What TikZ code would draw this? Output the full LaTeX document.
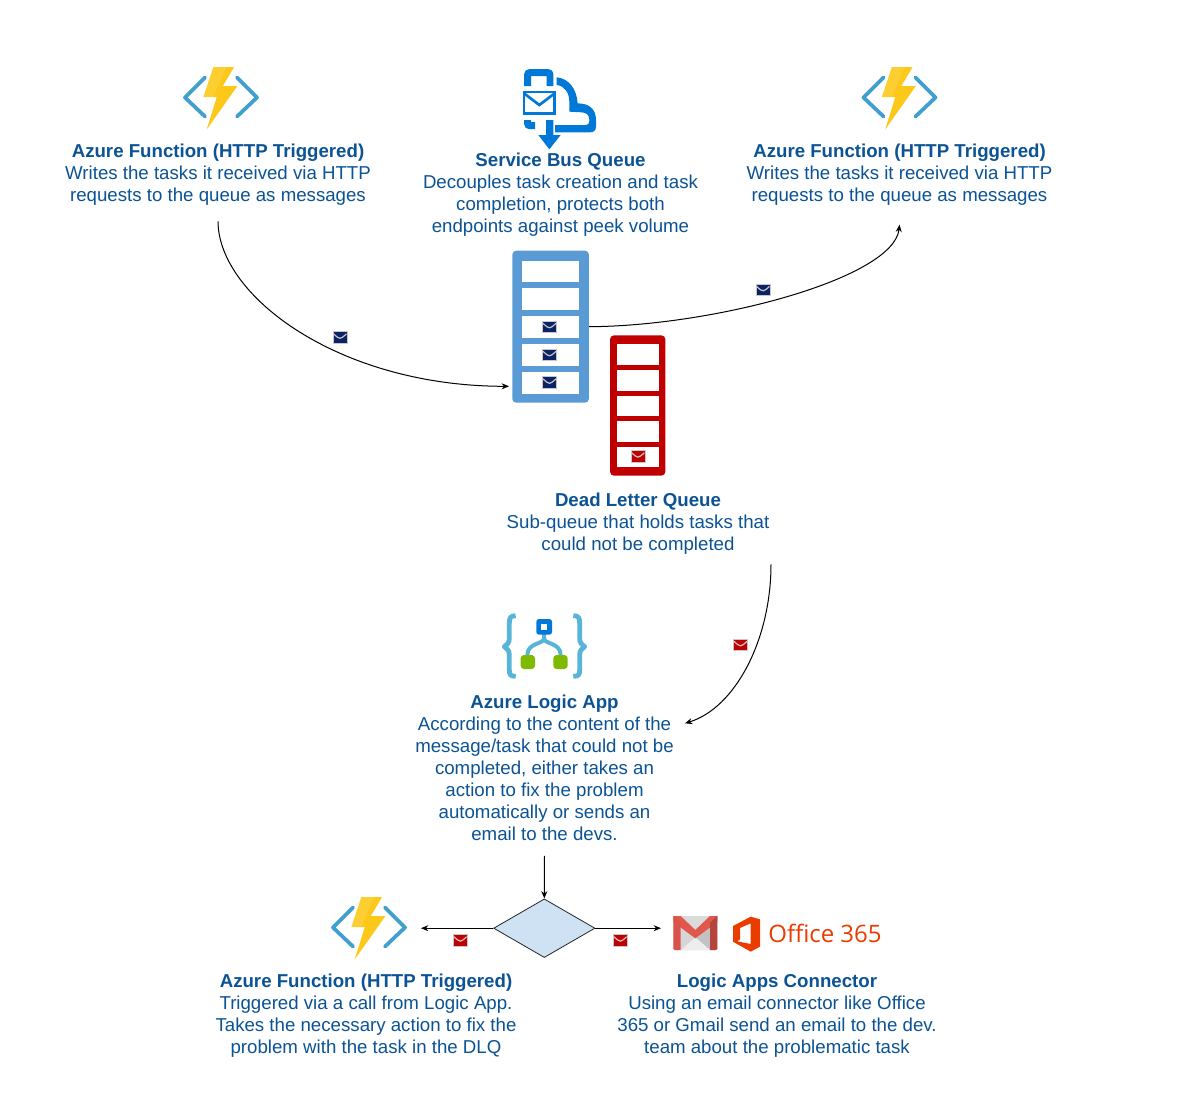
\documentclass[tikz,border=0pt]{standalone}
\usepackage{fontspec}
\setmainfont{Liberation Sans}
\newfontfamily\officefont{Open Sans}
\usetikzlibrary{arrows.meta,shapes.geometric}
\definecolor{txt}{HTML}{0B5394}
\definecolor{qblue}{HTML}{5B9BD5}
\definecolor{qred}{HTML}{C00000}
\definecolor{navy}{HTML}{0B2265}
\definecolor{fnblue}{HTML}{3F9FCF}
\definecolor{fnyellow}{HTML}{FCC91A}
\definecolor{sbblue}{HTML}{0078D7}
\definecolor{lablue}{HTML}{59B4D9}
\definecolor{lagreen}{HTML}{7FBA00}
\definecolor{orange365}{HTML}{EB3C00}
\definecolor{diafill}{HTML}{CFE2F3}
\tikzset{
  label text/.style={align=center,text=txt,inner sep=0pt,font=\fontsize{14}{16.5}\selectfont},
  conn/.style={draw=black,line width=.75pt,-{Stealth[length=5.5pt,width=4.5pt]}},
  slot/.style={fill=white,draw=none},
  queue/.style={rounded corners=2pt,minimum width=#1,inner sep=0pt},
}
\newcommand{\mailicon}[3]{%
  \begin{scope}[shift={(#1,#2)}]
    \fill[#3,draw=black!22,line width=.75pt] (-7,-5.7) rectangle (7,5.7);
    \draw[black!22,line width=.9pt] (-6.4,-3.6) .. controls (-3,-.5) and (-1.5,.8) .. (0,.8) .. controls (1.5,.8) and (3,-.5) .. (6.4,-3.6);
  \end{scope}}
\newcommand{\fnicon}[2]{%
  \begin{scope}[shift={(#1,#2)}]
    \draw[fnblue,line width=2.8pt,line cap=round,line join=round] (-16,-20) -- (-36,0) -- (-16,19);
    \draw[fnblue,line width=2.8pt,line cap=round,line join=round] (16,-20) -- (36,0) -- (16,19);
    \fill[fnyellow] (-7.7,-30.3) -- (13,-30.3) -- (1.7,-11.3) -- (16.3,-11.3) -- (-14.3,32) -- (-4.3,-.3) -- (-17.7,-.3) -- cycle;
    \fill[white,opacity=.1] (-7.7,-30.3) -- (5,-30.3) -- (-8,-.3) -- (-17.7,-.3) -- cycle;
  \end{scope}}
\begin{document}
\begin{tikzpicture}[x=.75pt,y=-.75pt]
\useasboundingbox (0,0) rectangle (1183,1111);
\fill[white] (0,0) rectangle (1183,1111);

% text nodes
\node[label text,inner ysep=11.5pt] (f1) at (218,175) {\textbf{Azure Function (HTTP Triggered)}\\Writes the tasks it received via HTTP\\requests to the queue as messages};
\node[label text] (sb) at (560.5,195) {\textbf{Service Bus Queue}\\Decouples task creation and task\\completion, protects both\\endpoints against peek volume};
\node[label text,inner ysep=14pt] (f2) at (899.5,175) {\textbf{Azure Function (HTTP Triggered)}\\Writes the tasks it received via HTTP\\requests to the queue as messages};
\node[label text] (dlq) at (638,524) {\textbf{Dead Letter Queue}\\Sub-queue that holds tasks that\\could not be completed};
\node[label text,inner ysep=11pt] (logic) at (544.5,768) {\textbf{Azure Logic App}\\According to the content of the\\message/task that could not be\\completed, either takes an\\action to fix the problem\\automatically or sends an\\email to the devs.};
\node[label text] (fb) at (366,1016) {\textbf{Azure Function (HTTP Triggered)}\\Triggered via a call from Logic App.\\Takes the necessary action to fix the\\problem with the task in the DLQ};
\node[label text] (cn) at (777,1016) {\textbf{Logic Apps Connector}\\Using an email connector like Office\\365 or Gmail send an email to the dev.\\team about the problematic task};

% function icons
\fnicon{221}{97.5}
\fnicon{899.5}{97.5}
\fnicon{369}{927.5}

% service bus icon
\begin{scope}[shift={(510,60)},x=.25pt,y=-.25pt]
  \draw[sbblue,line width=5.2pt,rounded corners=1.5pt] (53,78) -- (53,38) -- (120,38) -- (120,78);
  \fill[sbblue] (140,52) .. controls (175,55) and (200,85) .. (203,130) .. controls (240,130) and (258,150) .. (258,180) -- (258,200) .. controls (258,212) and (250,217) .. (240,217) -- (135,217) -- (135,195) -- (225,195) .. controls (235,195) and (238,190) .. (238,180) .. controls (238,165) and (230,158) .. (215,157) -- (178,155) -- (178,125) .. controls (178,100) and (165,78) .. (140,75) -- cycle;
  \draw[sbblue,line width=2.2pt,fill=white] (42,96) rectangle (134,161);
  \draw[sbblue,line width=2pt] (42,100) -- (88,135) -- (134,100);
  \draw[sbblue,line width=5.2pt,rounded corners=1.5pt] (53,180) -- (53,197) -- (75,197);
  \fill[sbblue] (108,180) -- (130,180) -- (130,225) -- (152,225) -- (118,268) -- (85,225) -- (108,225) -- cycle;
\end{scope}

% blue queue
\node[queue=76.7*.75pt,minimum height=114pt,fill=qblue,rounded corners=3pt] (bq) at (550.6,326.7) {};
\foreach \a/\b in {260.7/282.3,288.3/310,316/338.3,344/366,372/394}
  \draw[slot] (521.7,\a) rectangle (579.3,\b);
\mailicon{549.5}{327}{navy}
\mailicon{549.5}{355}{navy}
\mailicon{549.5}{382.5}{navy}

% red queue
\node[queue=55.3*.75pt,minimum height=105.3pt,fill=qred,rounded corners=3pt] (rq) at (637.7,405.5) {};
\foreach \a/\b in {344.3/365,370/390.7,395.7/416.3,421.3/442,447/467.3}
  \draw[slot] (616.7,\a) rectangle (658.7,\b);
\mailicon{638}{456.3}{qred}

% logic app icon
\begin{scope}[shift={(490,605)},x=.25pt,y=-.25pt,line join=round]
  \draw[lablue,line width=3.6pt] (77,32) .. controls (60,32) and (58,40) .. (58,55) -- (58,100) .. controls (58,115) and (50,120) .. (43,125) .. controls (50,130) and (58,135) .. (58,150) -- (58,195) .. controls (58,208) and (60,214) .. (77,214);
  \draw[lablue,line width=3.6pt] (250,32) .. controls (267,32) and (269,40) .. (269,55) -- (269,100) .. controls (269,115) and (277,120) .. (284,125) .. controls (277,130) and (269,135) .. (269,150) -- (269,195) .. controls (269,208) and (267,214) .. (250,214);
  \draw[lablue,line width=3pt] (162,85) -- (162,100) .. controls (162,118) and (112,112) .. (112,150);
  \draw[lablue,line width=3pt] (162,100) .. controls (162,118) and (212,112) .. (212,150);
  \fill[sbblue,rounded corners=2pt] (139,42) rectangle (186,89);
  \fill[white] (153,56) rectangle (172,75);
  \fill[lagreen,rounded corners=2.5pt] (92,150) rectangle (135,192);
  \fill[lagreen,rounded corners=2.5pt] (190,150) rectangle (233,192);
\end{scope}

% decision
\node[diamond,draw=black!85,fill=diafill,line width=.6pt,inner sep=0pt,minimum width=76pt,minimum height=44pt,aspect=1.72] (dec) at (544.3,928.2) {};

% gmail + office
\begin{scope}[shift={(660,900)},x=.25pt,y=-.25pt]
  \fill[black!14,rounded corners=1pt] (40,48) rectangle (172,150);
  \fill[black!24] (150,150) -- (150,70) -- (106,112) -- cycle;
  \fill[black!7] (62,150) -- (106,112) -- (150,150) -- cycle;
  \fill[black!16] (62,150) -- (62,70) -- (106,112) -- cycle;
  \definecolor{gm1}{HTML}{E0584B}\definecolor{gm2}{HTML}{D9534A}\definecolor{gm3}{HTML}{B3453C}
  \fill[gm1] (40,48) -- (62,48) -- (106,90) -- (150,48) -- (172,48) -- (172,66) -- (106,115) -- (40,66) -- cycle;
  \fill[gm2] (40,48) -- (62,68) -- (62,150) -- (44,150) -- (40,146) -- cycle;
  \fill[gm3] (172,48) -- (150,68) -- (150,150) -- (168,150) -- (172,146) -- cycle;
  \fill[orange365,even odd rule] (219,78) -- (272,50) -- (300,58) -- (300,140) -- (272,155) -- (219,125) -- cycle
     (240,84) -- (272,70) -- (272,132) -- (232,124) -- (240,118) -- cycle;
\end{scope}
\node[text=orange365,font=\officefont\fontsize{18}{20}\selectfont,inner sep=0pt] (off) at (825,933) {Office 365};

% connectors
\coordinate (bqin) at (509,386.3);
\coordinate (rqout) at (771,564.3);
\coordinate (lgin) at (685,723.3);
\coordinate (decl) at (421,928.2);
\coordinate (decr) at (661,928.2);
\draw[conn] (f1.south) .. controls (218.3,296) and (339,386.3) .. (bqin);
\draw[conn] (bq.east) .. controls (715,326) and (894,278) .. (f2.south);
\draw[conn] (rqout) .. controls (771,640) and (735,708) .. (lgin);
\draw[conn] (logic.south) -- (dec.north);
\draw[conn] (dec.west) -- (decl);
\draw[conn] (dec.east) -- (decr);

% envelopes on connectors
\mailicon{340}{337.5}{navy}
\mailicon{763}{290}{navy}
\mailicon{740.5}{645}{qred}
\mailicon{460.3}{940.3}{qred}
\mailicon{620.3}{940.3}{qred}
\end{tikzpicture}
\end{document}
